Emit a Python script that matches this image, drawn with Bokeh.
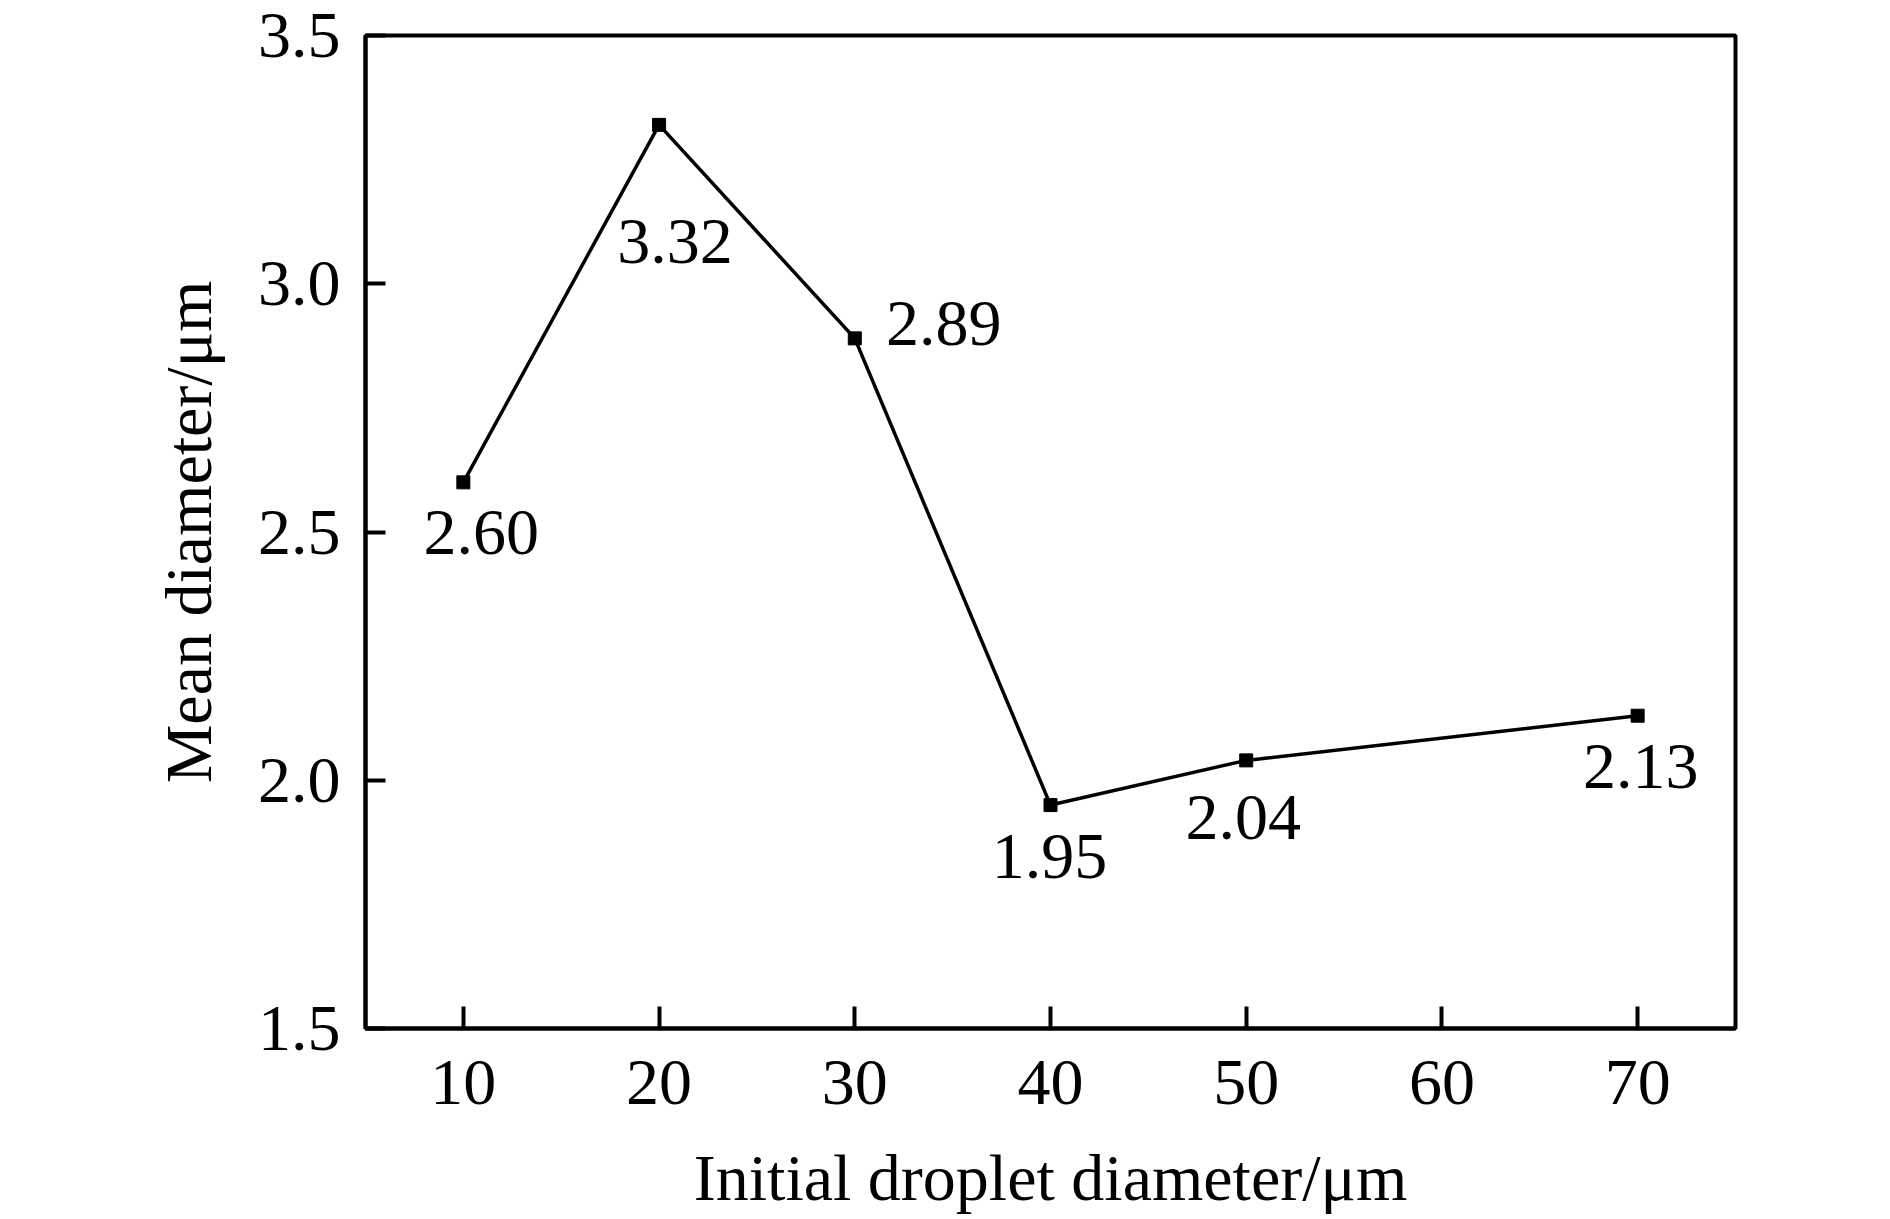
from bokeh.plotting import figure
from bokeh.models import FixedTicker, Range1d, ColumnDataSource
from bokeh.embed import file_html
from bokeh.resources import INLINE
from bokeh.core.properties import value

# ---- data ----
initial_diameter = [10, 20, 30, 40, 50, 70]
mean_diameter = [2.60, 3.32, 2.89, 1.95, 2.04, 2.13]
point_labels = ["2.60", "3.32", "2.89", "1.95", "2.04", "2.13"]
x_ticks = [10, 20, 30, 40, 50, 60, 70]
y_ticks = [1.5, 2.0, 2.5, 3.0, 3.5]
y_tick_labels = ["1.5", "2.0", "2.5", "3.0", "3.5"]
x_title = "Initial droplet diameter/μm"
y_title = "Mean diameter/μm"

# label placement (screen px, y down)
label_dx = [18, 16, 89, -1, -3, 3]
label_dy = [50, 117, -15, 51, 57, 51]

FONT = "Liberation Serif"
FS = "66px"

p = figure(width=1890, height=1219, output_backend="svg", toolbar_location=None,
           x_range=Range1d(5, 75), y_range=Range1d(1.5, 3.5),
           min_border_left=365, min_border_right=155,
           min_border_top=35, min_border_bottom=191)
p.background_fill_color = "white"
p.border_fill_color = "white"
p.grid.visible = False
p.outline_line_color = "black"
p.outline_line_width = 4

for ax in (p.xaxis[0], p.yaxis[0]):
    ax.axis_line_color = "black"
    ax.axis_line_width = 4
    ax.major_tick_line_color = "black"
    ax.major_tick_line_width = 4
    ax.major_tick_out = 0
    ax.minor_tick_line_color = None
    ax.major_label_text_font = FONT
    ax.major_label_text_font_size = FS
    ax.major_label_text_color = "black"
    ax.axis_label_text_font = FONT
    ax.axis_label_text_font_size = FS
    ax.axis_label_text_font_style = "normal"
    ax.axis_label_text_color = "black"

p.xaxis.ticker = FixedTicker(ticks=x_ticks)
p.xaxis.major_tick_in = 22
p.xaxis.major_label_standoff = 32
p.xaxis.axis_label = x_title
p.xaxis.axis_label_standoff = 34

p.yaxis.ticker = FixedTicker(ticks=y_ticks)
p.yaxis.major_label_overrides = {t: s for t, s in zip(y_ticks, y_tick_labels)}
p.yaxis.major_tick_in = 20
p.yaxis.major_label_standoff = 25
p.yaxis.axis_label = y_title
p.yaxis.axis_label_standoff = 30

src = ColumnDataSource(dict(x=initial_diameter, y=mean_diameter, lab=point_labels,
                            dx=label_dx, dy=label_dy))
p.line("x", "y", source=src, line_color="black", line_width=3.5)
p.scatter("x", "y", source=src, marker="square", size=13,
          fill_color="black", line_color="black")
p.text("x", "y", text="lab", source=src, x_offset="dx", y_offset="dy",
       text_font=value(FONT), text_font_size=FS, text_color="black",
       text_align="center", text_baseline="middle")

open("out.html", "w").write(file_html(p, INLINE))
